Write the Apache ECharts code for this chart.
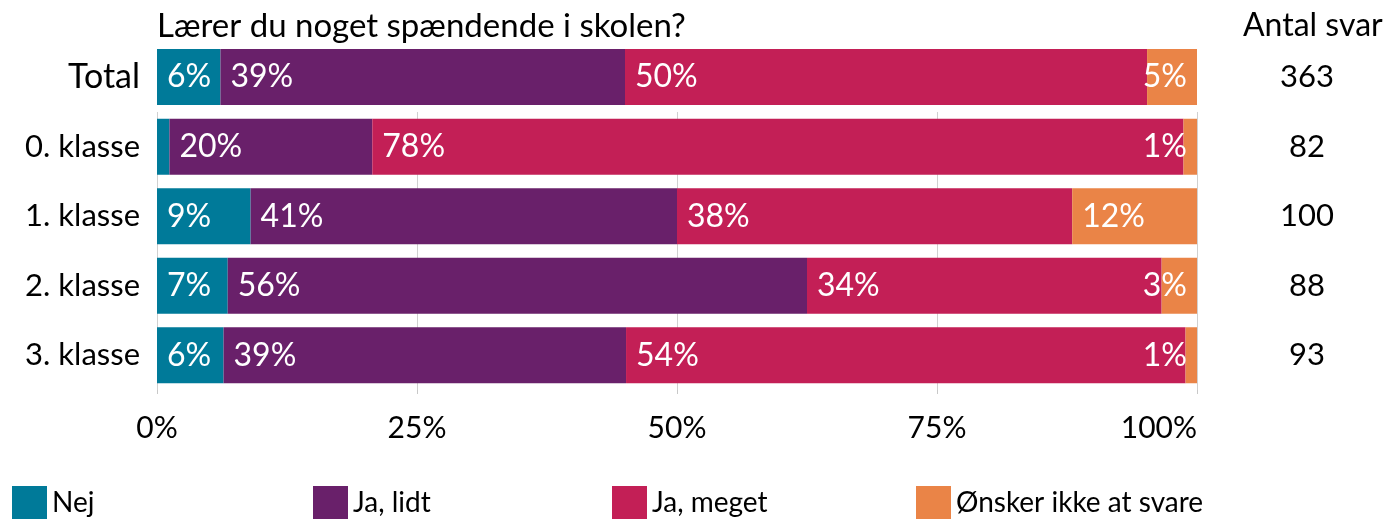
<!DOCTYPE html>
<html>
<head>
<meta charset="utf-8">
<script src="https://cdn.jsdelivr.net/npm/echarts@6/dist/echarts.min.js"></script>
<style>
  html, body { margin: 0; padding: 0; background: #fff; }
  #chart { width: 1387px; height: 519px; }
</style>
</head>
<body>
<div id="chart"></div>
<script>
// data
var totalLabel = ['Total'];
var klasser = ['0. klasse', '1. klasse', '2. klasse', '3. klasse'];
var antalSvarTotal = ['363'];
var antalSvarKlasser = ['82', '100', '88', '93'];
var svarNavne = ['Nej', 'Ja, lidt', 'Ja, meget', 'Ønsker ikke at svare'];
// procent: [Total, 0. klasse, 1. klasse, 2. klasse, 3. klasse]
var nej = [6.1, 1.2, 9, 6.8, 6.4];
var jaLidt = [38.9, 19.5, 41, 55.7, 38.7];
var jaMeget = [50.2, 78.0, 38, 34.1, 53.8];
var oensker = [4.8, 1.3, 12, 3.4, 1.1];
var xTicks = ['0%', '25%', '50%', '75%', '100%'];

var farver = ['#007a99', '#69206a', '#c31f56', '#ea8447'];
var font = 'Lato, "Open Sans", sans-serif';
var alle = [nej, jaLidt, jaMeget, oensker];

function makeLabel(serieIdx, v) {
  var lbl = {
    show: true,
    color: '#fff',
    fontSize: 32,
    fontFamily: font,
    position: 'insideLeft',
    distance: 10,
    padding: [4, 0, 0, 0],
    formatter: function (p) { return Math.round(p.value) + '%'; }
  };
  if (serieIdx === 0 && v < 3) lbl.show = false;
  if (serieIdx === 3 && v < 8) { lbl.position = 'insideRight'; lbl.distance = 10; }
  return lbl;
}

var series = [];
svarNavne.forEach(function (navn, i) {
  var vals = alle[i];
  // Total-raekken
  series.push({
    name: navn, type: 'bar', stack: 'tot', xAxisIndex: 0, yAxisIndex: 0,
    barWidth: 56, itemStyle: { color: farver[i] },
    data: [{ value: vals[0], label: makeLabel(i, vals[0]) }]
  });
  // klasserne
  series.push({
    name: navn, type: 'bar', stack: 'kl', xAxisIndex: 1, yAxisIndex: 2,
    barWidth: 56, itemStyle: { color: farver[i] },
    data: vals.slice(1).map(function (v) { return { value: v, label: makeLabel(i, v) }; })
  });
});

var legends = svarNavne.map(function (navn, i) {
  return {
    data: [navn],
    left: [12, 313, 612, 916][i],
    top: 486,
    padding: 0,
    itemWidth: 35,
    itemHeight: 34,
    itemGap: 5,
    icon: 'rect',
    selectedMode: false,
    textStyle: { fontSize: 28, fontFamily: font, color: '#000', padding: [14, 0, 0, 0] }
  };
});

var option = {
  animation: false,
  title: [
    { text: 'Lærer du noget spændende i skolen?', left: 152, top: 5,
      textStyle: { fontSize: 33, fontWeight: 'normal', fontFamily: font, color: '#000' } },
    { text: 'Antal svar', left: 1238, top: 5,
      textStyle: { fontSize: 32, fontWeight: 'normal', fontFamily: font, color: '#000' } }
  ],
  legend: legends,
  grid: [
    { left: 157, right: 190, top: 42, height: 70 },
    { left: 157, right: 190, top: 112, height: 278 }
  ],
  xAxis: [
    { gridIndex: 0, type: 'value', min: 0, max: 100, show: false },
    { gridIndex: 1, type: 'value', min: 0, max: 100, interval: 25,
      axisLine: { show: false },
      axisTick: { show: true, length: 4, lineStyle: { color: '#c8c8c8' } },
      splitLine: { show: true, lineStyle: { color: '#d0d0d0', width: 1 } },
      axisLabel: { fontSize: 30, fontFamily: font, color: '#000', margin: 23,
        alignMaxLabel: 'right',
        formatter: function (v) { return xTicks[v / 25]; } } }
  ],
  yAxis: [
    { gridIndex: 0, type: 'category', data: totalLabel,
      axisLine: { show: false }, axisTick: { show: false },
      axisLabel: { fontSize: 34, fontFamily: font, color: '#000', margin: 17, padding: [12, 0, 0, 0] } },
    { gridIndex: 0, type: 'category', data: antalSvarTotal, position: 'right',
      axisLine: { show: false }, axisTick: { show: false },
      axisLabel: { fontSize: 31, fontFamily: font, color: '#000', margin: 110, align: 'center', padding: [12, 0, 0, 0] } },
    { gridIndex: 1, type: 'category', data: klasser, inverse: true,
      axisLine: { show: false }, axisTick: { show: false },
      axisLabel: { fontSize: 31, fontFamily: font, color: '#000', margin: 17, padding: [8, 0, 0, 0] } },
    { gridIndex: 1, type: 'category', data: antalSvarKlasser, inverse: true, position: 'right',
      axisLine: { show: false }, axisTick: { show: false },
      axisLabel: { fontSize: 31, fontFamily: font, color: '#000', margin: 110, align: 'center', padding: [8, 0, 0, 0] } }
  ],
  series: series
};

var chart = echarts.init(document.getElementById('chart'));
chart.setOption(option);
</script>
</body>
</html>
